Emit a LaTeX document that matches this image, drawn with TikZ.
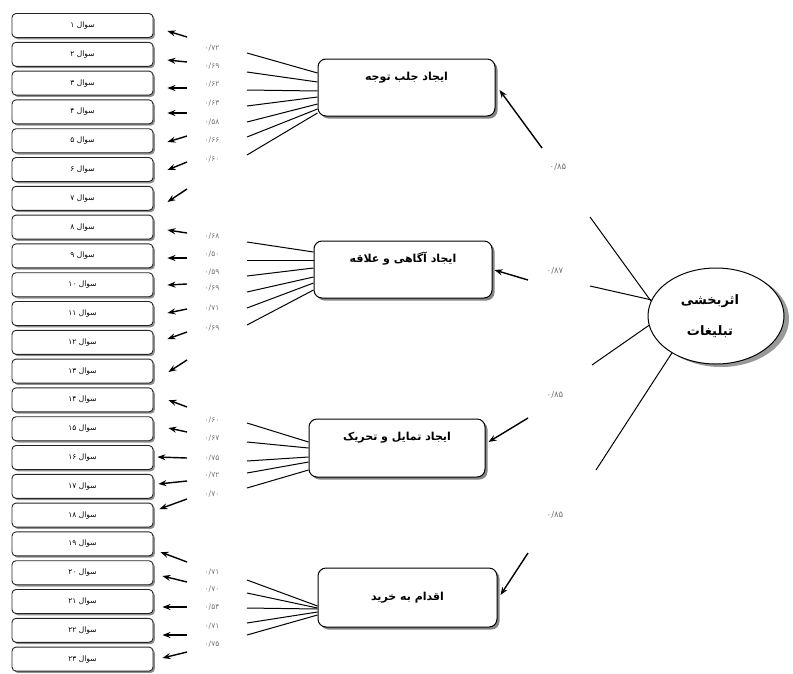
\documentclass[tikz,border=0pt]{standalone}
\usepackage{fontspec}
\newfontfamily\arabicfont[Script=Arabic]{DejaVu Sans}
\TeXXeTstate=1
\usetikzlibrary{calc,shadows,arrows.meta,shapes.geometric}
\begin{document}
\begin{tikzpicture}[x=1pt,y=-1pt,
  qbox/.style={draw=black!85, line width=0.9pt, rounded corners=4pt, fill=white,
    minimum width=141pt, minimum height=24pt, inner sep=0pt,
    font=\arabicfont\fontsize{7.5}{8}\selectfont,
    drop shadow={shadow xshift=1.8pt, shadow yshift=-1.8pt, fill=black!55, opacity=0.8}},
  factorbox/.style={draw=black, line width=1pt, rounded corners=8pt, fill=white,
    inner sep=0pt, font=\arabicfont\bfseries\fontsize{11}{12}\selectfont,
    drop shadow={shadow xshift=2.5pt, shadow yshift=-2.5pt, fill=black!60, opacity=0.8}},
  mainell/.style={ellipse, draw=black, line width=1pt, fill=white,
    minimum width=136pt, minimum height=96pt, inner sep=0pt, align=center,
    font=\arabicfont\bfseries\fontsize{13}{31}\selectfont,
    drop shadow={shadow xshift=5pt, shadow yshift=-3pt, fill=black!50, opacity=0.8}},
  arr/.style={-{Stealth[length=8pt,width=6pt]}, line width=1.4pt},
  ln/.style={line width=1pt},
  val/.style={font=\arabicfont\fontsize{7.5}{8}\selectfont, text=black!55, inner sep=0pt},
  bigval/.style={font=\arabicfont\fontsize{8.5}{9}\selectfont, text=black!55, inner sep=0pt},
]
\useasboundingbox (0,0) rectangle (793,673);

% question boxes
\foreach \i/\d [evaluate=\i as \c using 25.5+28.8*(\i-1)] in
  {1/۱,2/۲,3/۳,4/۴,5/۵,6/۶,7/۷,8/۸,9/۹,10/۱۰,11/۱۱,12/۱۲,13/۱۳,14/۱۴,15/۱۵,16/۱۶,
   17/۱۷,18/۱۸,19/۱۹,20/۲۰,21/۲۱,22/۲۲,23/۲۳}
  \node[qbox] (q\i) at (82.5,\c) {\beginR سوال \beginL\d\endL\endR};

% factor boxes
\node[factorbox, minimum width=177pt, minimum height=57pt] (F1) at (406.5,87.5)
  {\raisebox{22pt}{\beginR ایجاد جلب توجه\endR}};
\node[factorbox, minimum width=178pt, minimum height=57pt] (F2) at (403,269.5)
  {\raisebox{24pt}{\beginR ایجاد آگاهی و علاقه\endR}};
\node[factorbox, minimum width=176pt, minimum height=58pt] (F3) at (397,448)
  {\raisebox{24pt}{\beginR ایجاد تمایل و تحریک\endR}};
\node[factorbox, minimum width=179pt, minimum height=59pt] (F4) at (407.5,597.5)
  {\beginR اقدام به خرید\endR};

% main construct
\node[mainell] (E) at (716,316) {\hspace*{-12pt}\beginR اثربخشی\endR\\\hspace*{-12pt}\beginR تبلیغات\endR};

% arrows into question boxes
\foreach \i/\ty/\hx/\hy [evaluate=\i as \c using 25.5+28.8*(\i-1)] in
  {1/37/167/31, 2/62/167/60, 3/88/167/88, 4/113/167/113, 5/136/167/142,
   6/162/167/170, 7/189/167/202, 8/233/167/230, 9/258/167/258, 10/284/167/285,
   11/309/167/313, 12/332/167/339, 13/360/168/372, 14/407/168/400, 15/432/168/428,
   16/458/157/457, 17/481/158/484, 18/499/159/509, 19/562/160/552, 20/582/162/576,
   21/607/162/607, 22/635/162/635, 23/652/162/658}
{
  \coordinate (t\i) at (187,\ty);
  \draw[arr] (t\i) -- ($(q\i.east)+(\hx-153,\hy-\c)$);
}

% loadings and lines from factors
\foreach \i/\v/\vy/\ly/\f/\dy in
  {1/۷۲/48/53/F1/-14.5, 2/۶۹/66/72/F1/-5.5, 3/۶۲/84/90/F1/3.5, 4/۶۳/103/106/F1/9.5,
   5/۵۸/122/122/F1/16.5, 6/۶۶/140/137/F1/21.5, 7/۶۰/159/155/F1/25.5,
   8/۶۸/236/242/F2/-17.5, 9/۵۰/254/260/F2/-9.5, 10/۵۹/272/276/F2/-1.5,
   11/۶۹/288/292/F2/7.5, 12/۷۱/308/308/F2/13.5, 13/۶۹/328/325/F2/20.5,
   14/۶۰/420/423/F3/-6, 15/۶۷/438/442/F3/0, 16/۷۵/458/461/F3/9,
   17/۷۲/475/473/F3/14, 18/۷۰/494/488/F3/22,
   19/۷۱/572/580/F4/8.5, 20/۷۰/589/593/F4/10.5, 21/۵۴/607/608/F4/11.5,
   22/۷۱/626/623/F4/14.5, 23/۷۵/644/635/F4/17.5}
{
  \node[val] (v\i) at (212,\vy) {۰/\v};
  \coordinate (l\i) at (247,\ly);
  \draw[ln] (l\i) -- ($(\f.west)+(0,\dy)$);
}

% structural paths
\coordinate (e1) at (590,217);
\coordinate (e2) at (590,286);
\coordinate (e3) at (592,365);
\coordinate (e4) at (596,470);
\draw[ln] (E.167) -- (e1);
\draw[ln] (E.166) -- (e2);
\draw[ln] (E.188) -- (e3);
\draw[ln] (E.220) -- (e4);

\coordinate (a1) at (542,148);
\coordinate (a2) at (528,280);
\coordinate (a3) at (528,418);
\coordinate (a4) at (528,553);
\draw[arr] (a1) -- ($(F1.east)+(4,2.5)$);
\draw[arr] (a2) -- ($(F2.east)+(2,0.5)$);
\draw[arr] (a3) -- ($(F3.east)+(3,-6)$);
\draw[arr] (a4) -- ($(F4.east)+(3,-2.5)$);

\node[bigval] (b1) at (558,167) {۰/۸۵};
\node[bigval] (b2) at (555,271) {۰/۸۷};
\node[bigval] (b3) at (555,395) {۰/۸۵};
\node[bigval] (b4) at (555,515) {۰/۸۵};
\end{tikzpicture}
\end{document}
